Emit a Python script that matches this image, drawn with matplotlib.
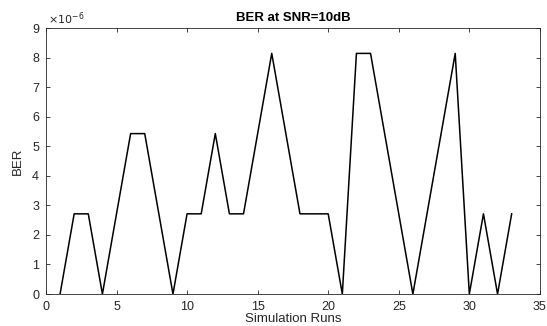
import matplotlib
matplotlib.use("Agg")
import matplotlib.pyplot as plt
from matplotlib.ticker import FuncFormatter

runs = list(range(1, 34))
ber = [0, 2.714e-6, 2.714e-6, 0, 2.714e-6, 5.428e-6, 5.428e-6, 2.714e-6, 0,
       2.714e-6, 2.714e-6, 5.428e-6, 2.714e-6, 2.714e-6, 5.428e-6, 8.142e-6,
       5.428e-6, 2.714e-6, 2.714e-6, 2.714e-6, 0, 8.142e-6, 8.142e-6, 5.428e-6,
       2.714e-6, 0, 2.714e-6, 5.428e-6, 8.142e-6, 0, 2.714e-6, 0, 2.714e-6]

plt.rcParams['font.family'] = ['Liberation Sans', 'DejaVu Sans']
fig = plt.figure(figsize=(5.47, 3.26), dpi=100)
ax = fig.add_axes([0.084, 0.098, 0.903, 0.816])
ax.plot(runs, ber, color='black', linewidth=1.1)
ax.set_xlim(0, 35)
ax.set_ylim(0, 9e-6)
ax.set_xticks(range(0, 36, 5))
ax.set_yticks([i * 1e-6 for i in range(10)])
ax.yaxis.set_major_formatter(FuncFormatter(lambda v, p: f"{v*1e6:.0f}"))
axc = '#262626'
for s in ax.spines.values():
    s.set_color(axc)
    s.set_linewidth(0.6)
ax.tick_params(direction='in', top=True, right=True, length=3, width=0.6,
               colors=axc, labelsize=9, pad=5)
ax.set_xlabel('Simulation Runs', fontsize=9.5, color=axc, labelpad=0)
ax.set_ylabel('BER', fontsize=9.5, color=axc, labelpad=6)
ax.set_title('BER at SNR=10dB', fontsize=9.5, fontweight='bold', pad=5)
ax.text(0.005, 1.005, r'$\times10^{-6}$', transform=ax.transAxes, fontsize=8,
        color=axc, ha='left', va='bottom')
fig.savefig('out.png', dpi=100)
